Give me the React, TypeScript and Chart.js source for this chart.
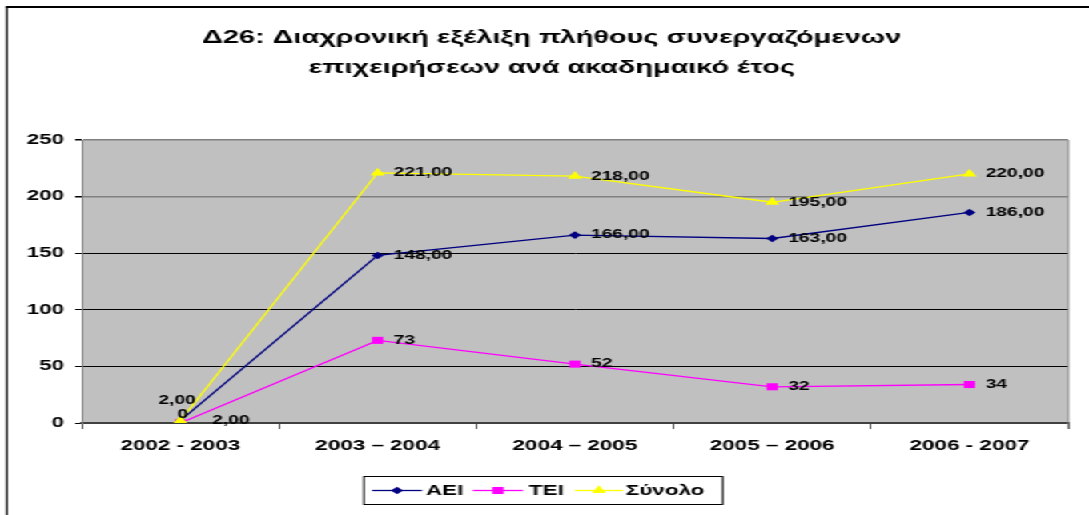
import React, { useEffect, useRef } from "react";
import { Chart, registerables } from "chart.js";

Chart.register(...registerables);

const TITLE_LINES = [
  "Δ26: Διαχρονική εξέλιξη πλήθους συνεργαζόμενων",
  "επιχειρήσεων ανά ακαδημαικό έτος",
];
const CATEGORIES = ["2002 - 2003", "2003 – 2004", "2004 – 2005", "2005 – 2006", "2006 - 2007"];
const AEI = [2, 148, 166, 163, 186];
const TEI = [0, 73, 52, 32, 34];
const TOTAL = [2, 221, 218, 195, 220];
const SERIES_NAMES = ["ΑΕΙ", "ΤΕΙ", "Σύνολο"];
const SERIES_COLORS = ["#000080", "#FF00FF", "#FFFF00"];
const Y_MIN = 0;
const Y_MAX = 250;
const Y_STEP = 50;

const FONT = "'Liberation Sans', Arial, Helvetica, sans-serif";
const W = 680;
const H = 515;
const SX = 1089 / W;

const fmt2 = (v: number) => v.toFixed(2).replace(".", ",");
const fmt0 = (v: number) => String(Math.round(v));
const FORMATS = [fmt2, fmt0, fmt2];

const bgPlugin = {
  id: "plotBg",
  beforeDraw(chart: any) {
    const { ctx, chartArea: a } = chart;
    ctx.save();
    ctx.fillStyle = "#ffffff";
    ctx.fillRect(0, 0, chart.width, chart.height);
    ctx.fillStyle = "#C0C0C0";
    ctx.fillRect(a.left, a.top, a.right - a.left, a.bottom - a.top);
    ctx.restore();
  },
};

const labelsPlugin = {
  id: "pointLabels",
  afterDatasetsDraw(chart: any) {
    const ctx = chart.ctx;
    ctx.save();
    ctx.font = `bold 12px ${FONT}`;
    ctx.fillStyle = "#000";
    ctx.textBaseline = "middle";
    chart.data.datasets.forEach((ds: any, di: number) => {
      const meta = chart.getDatasetMeta(di);
      meta.data.forEach((pt: any, i: number) => {
        const text = FORMATS[di](ds.data[i]);
        let x = pt.x + 10;
        let y = pt.y;
        ctx.textAlign = "left";
        if (i === 0) {
          if (di === 2) {
            ctx.textAlign = "center";
            x = pt.x - 2;
            y = pt.y - 20;
          } else if (di === 1) {
            ctx.textAlign = "center";
            x = pt.x + 1.5;
            y = pt.y - 8;
          } else {
            x = pt.x + 20;
            y = pt.y;
          }
        }
        ctx.fillText(text, x, y);
      });
    });
    ctx.restore();
  },
};

const decorPlugin = {
  id: "decor",
  afterDraw(chart: any) {
    const { ctx, chartArea: a } = chart;
    ctx.save();
    // plot right border
    ctx.strokeStyle = "#808080";
    ctx.lineWidth = 1;
    ctx.beginPath();
    ctx.moveTo(a.right, a.top);
    ctx.lineTo(a.right, a.bottom + 6);
    ctx.stroke();

    // outer frame (left + top)
    ctx.strokeStyle = "#222";
    ctx.lineWidth = 1.3;
    ctx.beginPath();
    ctx.moveTo(4.3, H);
    ctx.lineTo(4.3, 6.5);
    ctx.stroke();
    ctx.lineWidth = 2;
    ctx.strokeStyle = "#000";
    ctx.beginPath();
    ctx.moveTo(3.7, 7);
    ctx.lineTo(W, 7);
    ctx.stroke();

    // title
    ctx.fillStyle = "#000";
    ctx.font = `bold 18px ${FONT}`;
    ctx.textAlign = "center";
    ctx.textBaseline = "middle";
    ctx.fillText(TITLE_LINES[0], W / 2 + 4.5, 38);
    ctx.fillText(TITLE_LINES[1], W / 2 + 4.5, 68);

    // legend
    const bx = 226.7, by = 476, bw = 224, bh = 28;
    ctx.strokeStyle = "#000";
    ctx.lineWidth = 1;
    ctx.strokeRect(bx + 0.5, by + 0.5, bw, bh);
    const cy = by + bh / 2 + 0.5;
    const items = [
      { x0: 232.3, x1: 263.5, tx: 266 },
      { x0: 295.3, x1: 326.6, tx: 330.3 },
      { x0: 359, x1: 389, tx: 390.8 },
    ];
    const styles = ["rectRot", "rect", "triangle"];
    const radii = [3.8, 5, 5.2];
    ctx.font = `bold 14px ${FONT}`;
    ctx.textAlign = "left";
    items.forEach((it, i) => {
      ctx.strokeStyle = SERIES_COLORS[i];
      ctx.fillStyle = SERIES_COLORS[i];
      ctx.lineWidth = 1.3;
      ctx.beginPath();
      ctx.moveTo(it.x0, cy);
      ctx.lineTo(it.x1, cy);
      ctx.stroke();
      const mx = (it.x0 + it.x1) / 2;
      const r = radii[i];
      ctx.beginPath();
      if (styles[i] === "rectRot") {
        ctx.moveTo(mx, cy - r);
        ctx.lineTo(mx + r, cy);
        ctx.lineTo(mx, cy + r);
        ctx.lineTo(mx - r, cy);
      } else if (styles[i] === "rect") {
        const s = Math.SQRT1_2 * r;
        ctx.rect(mx - s, cy - s, 2 * s, 2 * s);
      } else {
        ctx.moveTo(mx, cy - r);
        ctx.lineTo(mx + r * 0.866, cy + r * 0.5);
        ctx.lineTo(mx - r * 0.866, cy + r * 0.5);
      }
      ctx.closePath();
      ctx.fill();
      ctx.fillStyle = "#000";
      ctx.fillText(SERIES_NAMES[i], it.tx, cy + 0.5);
    });
    ctx.restore();
  },
};

export default function App() {
  const ref = useRef<HTMLCanvasElement | null>(null);

  useEffect(() => {
    if (!ref.current) return;
    const chart = new Chart(ref.current, {
      type: "line",
      data: {
        labels: CATEGORIES,
        datasets: [
          {
            label: SERIES_NAMES[0],
            data: AEI,
            borderColor: SERIES_COLORS[0],
            backgroundColor: SERIES_COLORS[0],
            borderWidth: 1.3,
            pointStyle: "rectRot",
            pointRadius: 3.8,
            pointBorderWidth: 0,
            tension: 0,
            order: 2,
          },
          {
            label: SERIES_NAMES[1],
            data: TEI,
            borderColor: SERIES_COLORS[1],
            backgroundColor: SERIES_COLORS[1],
            borderWidth: 1.3,
            pointStyle: "rect",
            pointRadius: 5,
            pointBorderWidth: 0,
            tension: 0,
            order: 1,
          },
          {
            label: SERIES_NAMES[2],
            data: TOTAL,
            borderColor: SERIES_COLORS[2],
            backgroundColor: SERIES_COLORS[2],
            borderWidth: 1.3,
            pointStyle: "triangle",
            pointRadius: 5.2,
            pointBorderWidth: 0,
            tension: 0,
            order: 0,
          },
        ],
      },
      options: {
        responsive: true,
        maintainAspectRatio: false,
        animation: false,
        events: [],
        layout: { padding: { top: 140, right: 13, left: 0, bottom: 0 } },
        plugins: {
          legend: { display: false },
          title: { display: false },
          tooltip: { enabled: false },
        },
        scales: {
          x: {
            type: "category",
            offset: true,
            grid: {
              offset: true,
              drawOnChartArea: false,
              drawTicks: true,
              tickLength: 6,
              color: "#404040",
              lineWidth: 1,
            },
            border: { display: true, color: "#404040", width: 2 },
            ticks: {
              color: "#000",
              font: { family: FONT, size: 14, weight: "bold" },
              padding: 9,
              maxRotation: 0,
              autoSkip: false,
            },
            afterFit: (s: any) => {
              s.height = 92;
            },
          },
          y: {
            min: Y_MIN,
            max: Y_MAX,
            ticks: {
              stepSize: Y_STEP,
              color: "#000",
              font: { family: FONT, size: 14, weight: "bold" },
              padding: 7,
            },
            grid: {
              drawTicks: true,
              tickLength: 4,
              tickColor: "#000",
              color: (c: any) => {
                const v = c.tick ? c.tick.value : 0;
                if (v === 0) return "rgba(0,0,0,0)";
                return v >= 200 ? "#808080" : "#000";
              },
              lineWidth: (c: any) => {
                const v = c.tick ? c.tick.value : 0;
                return v >= 200 ? 1.5 : 1;
              },
            },
            border: { display: true, color: "#808080", width: 1 },
            afterFit: (s: any) => {
              s.width = 51;
            },
          },
        },
      },
      plugins: [bgPlugin, labelsPlugin, decorPlugin],
    } as any);
    return () => chart.destroy();
  }, []);

  return (
    <div
      style={{
        position: "fixed",
        left: 0,
        top: 0,
        width: W,
        height: H,
        transform: `scaleX(${SX})`,
        transformOrigin: "0 0",
        background: "#fff",
      }}
    >
      <canvas ref={ref} />
    </div>
  );
}
